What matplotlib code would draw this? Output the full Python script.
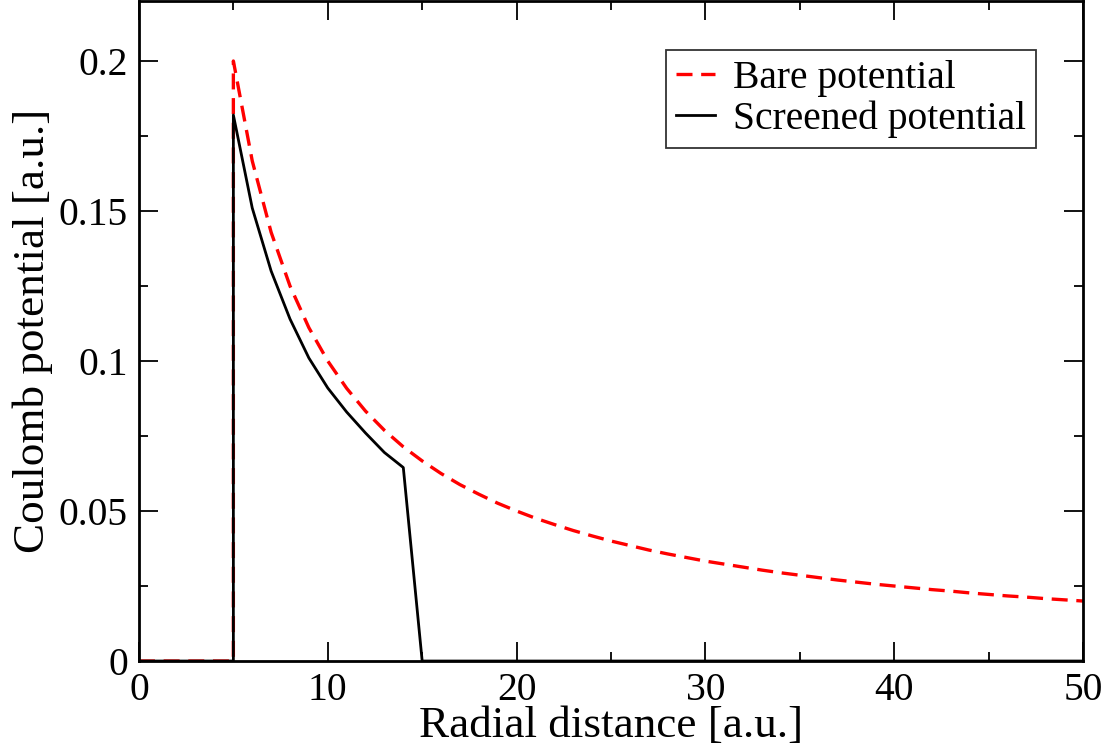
import matplotlib
matplotlib.use("Agg")
import matplotlib.pyplot as plt
from matplotlib.ticker import MultipleLocator

# radialna udaljenost (dve tacke na r=5 zbog skoka)
r_bare = [0, 1, 2, 3, 4, 5, 5, 6, 7, 8, 9, 10, 11, 12, 13, 14, 15, 16, 17, 18, 19, 20,
          21, 22, 23, 24, 25, 26, 27, 28, 29, 30, 31, 32, 33, 34, 35, 36, 37, 38, 39, 40,
          41, 42, 43, 44, 45, 46, 47, 48, 49, 50]
v_bare = [0, 0, 0, 0, 0, 0, 0.2, 0.1667, 0.1429, 0.125, 0.1111, 0.1, 0.0909, 0.0833,
          0.0769, 0.0714, 0.0667, 0.0625, 0.0588, 0.0556, 0.0526, 0.05, 0.0476, 0.0455,
          0.0435, 0.0417, 0.04, 0.0385, 0.037, 0.0357, 0.0345, 0.0333, 0.0323, 0.0313,
          0.0303, 0.0294, 0.0286, 0.0278, 0.027, 0.0263, 0.0256, 0.025, 0.0244, 0.0238,
          0.0233, 0.0227, 0.0222, 0.0217, 0.0213, 0.0208, 0.0204, 0.02]

r_scr = [0, 1, 2, 3, 4, 5, 5, 6, 7, 8, 9, 10, 11, 12, 13, 14, 15, 20, 30, 40, 50]
v_scr = [0, 0, 0, 0, 0, 0, 0.182, 0.151, 0.13, 0.114, 0.101, 0.091, 0.083, 0.076,
         0.0695, 0.0645, 0, 0, 0, 0, 0]

plt.rcParams['font.family'] = ['Liberation Serif', 'DejaVu Serif']

fig = plt.figure(figsize=(11.17, 7.51), dpi=100)
ax = fig.add_axes([0.1244, 0.1198, 0.8452, 0.8789])

ax.plot(r_bare, v_bare, color="red", linewidth=2.4, dashes=(4.8, 2.6), label="Bare potential")
ax.plot(r_scr, v_scr, color="black", linewidth=2.0, label="Screened potential")

ax.set_xlim(0, 50)
ax.set_ylim(0, 0.22)
ax.xaxis.set_major_locator(MultipleLocator(10))
ax.xaxis.set_minor_locator(MultipleLocator(5))
ax.yaxis.set_major_locator(MultipleLocator(0.05))
ax.yaxis.set_minor_locator(MultipleLocator(0.025))
ax.set_yticks([0, 0.05, 0.1, 0.15, 0.2])
ax.set_yticklabels(["0", "0.05", "0.1", "0.15", "0.2"])

ax.tick_params(which="both", direction="in", top=True, right=True, width=1.3, labelsize=28.5)
ax.tick_params(which="major", length=14, pad=8)
ax.tick_params(which="minor", length=6.5)
for s in ax.spines.values():
    s.set_linewidth(2.0)

ax.set_xlabel("Radial distance [a.u.]", fontsize=32.5, labelpad=-2)
ax.set_ylabel("Coulomb potential [a.u.]", fontsize=32.5, labelpad=4)

leg = ax.legend(loc="upper right", bbox_to_anchor=(0.950, 0.926), fontsize=28.5, frameon=True,
                fancybox=False, handlelength=1.0, handletextpad=0.45, borderpad=0.25,
                labelspacing=0.1, borderaxespad=0)
leg.get_frame().set_edgecolor("black")
leg.get_frame().set_linewidth(1.3)

plt.savefig("out.png", dpi=100)
